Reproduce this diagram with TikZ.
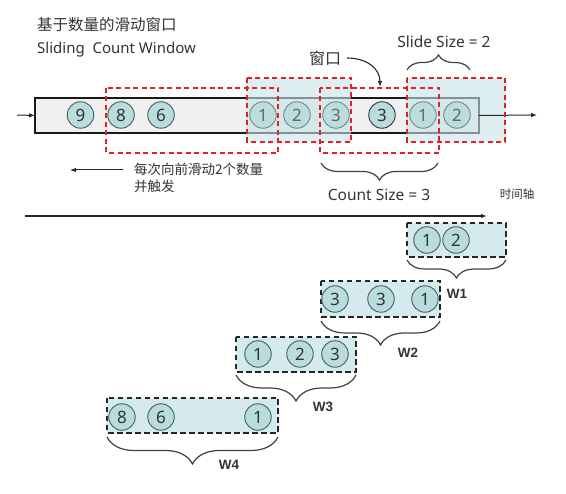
\documentclass[tikz,border=0pt]{standalone}
\usepackage{fontspec}
\setmainfont{Noto Sans}
\newfontfamily\cjk{Noto Sans CJK SC}
\newfontfamily\wfont{Liberation Sans}
\usetikzlibrary{arrows.meta,decorations.pathreplacing}
\definecolor{barfill}{HTML}{F0F0F0}
\definecolor{hl}{HTML}{C6E3E6}
\definecolor{winfill}{HTML}{D5EAEC}
\definecolor{ballfill}{HTML}{B9DCDC}
\definecolor{ballline}{HTML}{4A5C5C}
\definecolor{balllight}{HTML}{6F8888}
\definecolor{dashred}{HTML}{E32028}
\definecolor{txt}{HTML}{333333}
\tikzset{
  ball/.style={circle, draw=ballline, fill=ballfill, line width=0.9pt, minimum size=26.5pt, inner sep=0pt, font=\fontsize{17}{17}\selectfont, text=txt},
  hlball/.style={ball, draw=balllight, fill=ballfill!80!hl, text=black!60},
  reddash/.style={draw=dashred, line width=1.6pt, dash pattern=on 5pt off 3.5pt},
  winbox/.style={draw=black!85, fill=winfill, line width=1.8pt, dash pattern=on 5.5pt off 3.5pt},
  hilite/.style={fill=hl, fill opacity=0.6},
  curly/.style={decorate, decoration={brace, amplitude=#1}, draw=black!75, line width=1.2pt},
  arr/.style={-{Latex[length=6pt,width=4.5pt]}, line width=1pt, draw=black!85},
  lbl/.style={text=txt, inner sep=0pt},
  wlbl/.style={text=txt, inner sep=0pt, font=\wfont\bfseries\fontsize{13.5}{13.5}\selectfont}
}
\begin{document}
\begin{tikzpicture}[x=1pt,y=-1pt]
\useasboundingbox (0,0) rectangle (566,494);

% titles
\node[lbl, anchor=west, font=\cjk\fontsize{15.5}{16}\selectfont] (title) at (37,25) {基于数量的滑动窗口};
\node[lbl, anchor=west, font=\fontsize{15}{15}\selectfont] (subtitle) at (37,50) {Sliding\ \ Count Window};

% stream bar
\node[draw=black!90, fill=barfill, line width=1.6pt, minimum width=444pt, minimum height=35pt, inner sep=0pt, outer sep=0pt, anchor=north west] (bar) at (35,98) {};

% highlighted windows
\fill[hilite] (247,78) rectangle (351,142);
\fill[hilite] (407,78) rectangle (505,142);

% stream elements
\node[ball] (s9) at (80.5,115) {9};
\node[ball] (s8) at (121,115) {8};
\node[ball] (s6) at (161,115) {6};
\node[hlball] (s1a) at (263,115) {1};
\node[hlball] (s2a) at (297,115) {2};
\node[hlball] (s3a) at (336,115) {3};
\node[ball, draw=black!80] (s3b) at (382,115) {3};
\node[hlball] (s1b) at (423,115) {1};
\node[hlball] (s2b) at (457,115) {2};

% in / out arrows
\coordinate (in0) at (17,115);
\coordinate (out1) at (537,115);
\draw[arr] (in0) -- (bar.west);
\draw[arr] (bar.east) -- (out1);

% red dashed windows
\draw[reddash] (106,88) rectangle (278,153);
\draw[reddash] (247,78) rectangle (351,142);
\draw[reddash] (320,88) rectangle (439,153);
\draw[reddash] (407,78) rectangle (505,142);

% slide size brace
\coordinate (ssl) at (407,70);
\coordinate (ssr) at (470,70);
\draw[curly=15pt] (ssl) -- (ssr);
\node[lbl, font=\fontsize{15.5}{16}\selectfont] (slide) at (444,42) {Slide Size = 2};

% window label with curved arrow
\node[lbl, font=\cjk\fontsize{16}{16}\selectfont] (win) at (325,58) {窗口};
\coordinate (wtip) at (380,87);
\draw[arr, line width=1.1pt] (win.east) ++(6pt,0) .. controls (366,58) and (380,68) .. (wtip);

% count size brace
\coordinate (csl) at (321,163);
\coordinate (csr) at (438,163);
\draw[curly=17pt] (csr) -- (csl);
\node[lbl, font=\fontsize{15.5}{16}\selectfont] (count) at (379,195) {Count Size = 3};

% slide direction
\coordinate (la0) at (123,170);
\coordinate (la1) at (70,170);
\draw[arr] (la0) -- (la1);
\node[lbl, anchor=north west, align=left, font=\cjk\fontsize{13.5}{16.5}\selectfont] (note) at (134,163) {每次向前滑动2个数量\\并触发};

% time axis
\node[lbl, font=\cjk\fontsize{11.5}{11.5}\selectfont] (axis) at (517,194) {时间轴};
\coordinate (t0) at (25,216);
\coordinate (t1) at (487,216);
\draw[arr, line width=1.2pt] (t0) -- (t1);

% W1
\draw[winbox] (407,223) rectangle (506,257);
\node[ball] (w1a) at (427,240) {1};
\node[ball] (w1b) at (456,240) {2};
\coordinate (b1r) at (506,260);
\coordinate (b1l) at (407,260);
\draw[curly=18pt] (b1r) -- (b1l);
\node[wlbl] (w1) at (457,294) {W1};

% W2
\draw[winbox] (321,281) rectangle (440,317);
\node[ball] (w2a) at (335,299) {3};
\node[ball] (w2b) at (381,299) {3};
\node[ball] (w2c) at (425,299) {1};
\coordinate (b2r) at (440,321);
\coordinate (b2l) at (321,321);
\draw[curly=24pt] (b2r) -- (b2l);
\node[wlbl] (w2) at (408,353) {W2};

% W3
\draw[winbox] (236,337) rectangle (356,372);
\node[ball] (w3a) at (258,354) {1};
\node[ball] (w3b) at (300,354) {2};
\node[ball] (w3c) at (335,354) {3};
\coordinate (b3r) at (356,375);
\coordinate (b3l) at (236,375);
\draw[curly=26pt] (b3r) -- (b3l);
\node[wlbl] (w3) at (323,407) {W3};

% W4
\draw[winbox] (107,398) rectangle (278,433);
\node[ball] (w4a) at (122,417) {8};
\node[ball] (w4b) at (161,417) {6};
\node[ball] (w4c) at (258,417) {1};
\coordinate (b4r) at (278,437);
\coordinate (b4l) at (107,437);
\draw[curly=27pt] (b4r) -- (b4l);
\node[wlbl] (w4) at (229,465) {W4};
\end{tikzpicture}
\end{document}
